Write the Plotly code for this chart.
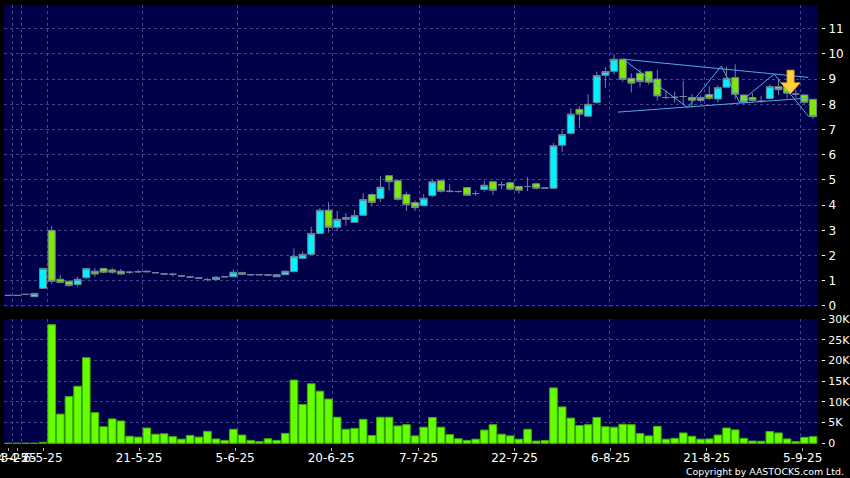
import plotly.graph_objects as go

opens = [.42,.42,.46,.37,.70,3.00,1.06,.97,.85,1.12,1.38,1.49,1.43,1.38,1.34,1.36,1.38,1.32,1.27,1.26,1.19,1.15,1.11,1.05,1.05,1.16,1.16,1.32,1.24,1.24,1.23,1.16,1.24,1.36,
         1.89,2.05,2.88,3.80,3.12,3.51,3.32,3.60,4.42,4.27,5.17,4.97,4.42,4.10,3.98,4.38,4.97,4.55,4.54,4.70,4.46,4.62,4.93,4.81,4.89,4.74,4.74,4.85,4.68,4.67,
         6.38,6.85,7.80,7.53,8.07,9.15,9.31,9.79,9.03,9.23,9.30,9.00,8.27,8.28,8.31,8.27,8.16,8.39,8.21,8.68,9.06,8.37,8.27,8.12,8.23,8.70,8.77,8.41,8.37,8.20]
closes = [.42,.42,.46,.50,1.49,.98,.93,.81,1.06,1.49,1.27,1.34,1.34,1.27,1.34,1.36,1.36,1.32,1.27,1.26,1.19,1.15,1.11,1.05,1.14,1.16,1.34,1.26,1.24,1.24,1.23,1.24,1.38,1.97,
          2.05,2.88,3.80,3.12,3.44,3.44,3.58,4.22,4.11,4.71,4.93,4.23,4.02,3.90,4.27,4.93,4.55,4.55,4.54,4.39,4.46,4.79,4.59,4.81,4.63,4.59,4.74,4.67,4.68,6.36,
          6.80,7.61,7.61,8.00,9.14,9.30,9.79,8.99,8.84,8.90,8.88,8.33,8.27,8.28,8.31,8.16,8.27,8.23,8.66,9.03,8.40,8.08,8.15,8.12,8.70,8.58,8.44,8.41,8.08,7.51]
highs = [.42,.42,.46,.50,1.49,3.17,1.23,1.03,1.16,1.49,1.51,1.51,1.51,1.47,1.40,1.43,1.39,1.34,1.30,1.32,1.22,1.17,1.13,1.11,1.19,1.17,1.46,1.36,1.25,1.26,1.24,1.26,1.40,2.29,
         2.16,3.15,3.88,4.11,3.77,3.68,3.81,4.47,4.47,5.16,5.17,5.03,4.54,4.18,4.44,5.03,5.03,4.83,4.58,4.72,4.58,4.97,4.96,4.93,4.93,4.77,5.11,4.89,4.70,6.46,
         7.02,7.84,7.91,8.40,9.30,9.47,9.99,9.79,9.23,9.39,9.30,9.37,8.57,8.50,8.93,8.41,8.36,8.72,8.76,9.50,9.59,8.37,8.44,8.34,8.80,9.03,8.85,8.57,8.40,8.20]
lows = [.42,.42,.46,.37,.68,.87,.90,.77,.77,1.08,1.16,1.30,1.28,1.25,1.27,1.31,1.33,1.30,1.25,1.17,1.15,1.12,1.09,.98,1.02,1.14,1.14,1.22,1.22,1.22,1.19,1.15,1.22,1.34,
        1.85,2.03,2.85,2.91,2.99,3.19,3.30,3.57,3.98,4.14,4.58,4.18,3.77,3.77,3.95,4.33,4.50,4.50,4.50,4.37,4.37,4.54,4.40,4.63,4.58,4.46,4.56,4.62,4.66,4.65,
        6.12,6.80,7.05,7.50,8.02,8.66,9.18,8.90,8.47,8.70,8.78,8.15,8.20,8.07,7.98,7.87,8.07,8.18,8.07,8.66,8.20,8.02,8.10,8.06,8.20,8.37,8.24,8.27,8.02,7.42]
volumes_k = [0,0,0,0,.24,28.7,7.06,11.3,13.8,20.7,7.4,4.0,5.9,5.4,1.7,1.5,3.7,2.2,2.3,1.6,1.0,1.9,1.5,2.9,1.05,.7,3.4,2.0,.7,.4,1.1,.7,2.4,15.3,
             9.4,14.4,12.6,10.7,6.3,3.4,3.6,5.8,1.9,6.3,6.3,4.2,4.5,1.8,3.9,6.25,3.9,2.1,1.1,.7,1.0,3.2,4.5,2.2,1.8,1.0,3.4,.55,.65,13.4,
             8.8,6.1,4.3,4.5,6.25,4.0,3.9,4.6,4.5,2.35,1.8,4.1,1.0,1.2,2.5,1.7,1.0,1.05,2.0,3.7,3.25,1.2,.55,.5,2.85,2.5,1.05,.4,1.45,1.6]
bar_index = list(range(len(opens)))

upper_x = [71.05, 92.46]
upper_y = [9.79, 9.07]
lower_x = [70.44, 92.46]
lower_y = [7.69, 8.25]
zig_x = [71.05, 78.5, 82.4, 84.5, 88.5, 92.5]
zig_y = [9.79, 7.87, 9.52, 8.07, 9.20, 7.51]
arrow_x = [90.0, 90.8, 90.8, 91.5, 90.4, 89.3, 90.0, 90.0]
arrow_y = [9.35, 9.35, 8.85, 8.85, 8.43, 8.85, 8.85, 9.35]

grid_vals = [0.5, 1.5, 4.5, 15.5, 26.5, 37.5, 47.5, 58.5, 69.5, 80.5, 91.5]
date_ticks = [0, 1, 4, 15.1, 26.2, 37.3, 47.4, 58.5, 69.6, 80.7, 91.8]
date_labels = ["5-3-25", "4-4-25", "6-5-25", "21-5-25", "5-6-25", "20-6-25", "7-7-25", "22-7-25", "6-8-25", "21-8-25", "5-9-25"]
price_ticks = list(range(0, 12))
vol_ticks = [0, 5, 10, 15, 20, 25, 30]
vol_labels = ["0", "5K", "10K", "15K", "20K", "25K", "30K"]

W, H = 850, 478
BG = "#00004A"
GRID = "#45458C"
FONT = dict(family="DejaVu Sans", size=12, color="#FFFFFF")
VFONT = dict(family="DejaVu Sans", size=11, color="#FFFFFF")
XR = [-0.51, 93.57]

fig = go.Figure()
fig.add_trace(go.Candlestick(
    x=bar_index, open=opens, high=highs, low=lows, close=closes,
    increasing=dict(line=dict(color="#6E8496", width=1), fillcolor="#00F4FF"),
    decreasing=dict(line=dict(color="#6E8496", width=1), fillcolor="#7FE800"),
    whiskerwidth=0, xaxis="x", yaxis="y", showlegend=False, hoverinfo="skip"))
line = dict(color="#52A8E6", width=1)
for xs, ys in ((upper_x, upper_y), (lower_x, lower_y), (zig_x, zig_y)):
    fig.add_trace(go.Scatter(x=xs, y=ys, mode="lines", line=line, xaxis="x", yaxis="y",
                             showlegend=False, hoverinfo="skip"))
fig.add_trace(go.Scatter(x=arrow_x, y=arrow_y, mode="lines", fill="toself", fillcolor="#FFD23A",
                         line=dict(color="#F0B020", width=1), xaxis="x", yaxis="y",
                         showlegend=False, hoverinfo="skip"))
fig.add_trace(go.Bar(x=bar_index, y=volumes_k, width=0.88, xaxis="x2", yaxis="y2",
                     marker=dict(color="#66FF00", line=dict(color="#3FB000", width=1)),
                     showlegend=False, hoverinfo="skip"))
fig.add_trace(go.Scatter(x=[0], y=[0], mode="markers", marker=dict(opacity=0), xaxis="x3", yaxis="y2",
                         showlegend=False, hoverinfo="skip"))

xgrid = dict(range=XR, showgrid=True, gridcolor=GRID, griddash="3px,3px", gridwidth=1,
             tickmode="array", tickvals=grid_vals, zeroline=False, showline=False, ticks="",
             showticklabels=False, rangeslider=dict(visible=False), fixedrange=True, automargin=False)
ygrid = dict(showgrid=True, gridcolor=GRID, griddash="3px,3px", gridwidth=1, zeroline=False,
             showline=False, side="right", anchor="free", position=821 / W, ticks="outside",
             ticklen=3, tickcolor="#FFFFFF", tickwidth=1, tickmode="array",
             ticklabelstandoff=1, ticklabeloverflow="allow", fixedrange=True, automargin=False)
fig.update_layout(
    width=W, height=H, autosize=False, margin=dict(l=0, r=0, t=0, b=0),
    paper_bgcolor="#000000", plot_bgcolor=BG, boxgap=0.1, boxgroupgap=0.1, barmode="overlay",
    xaxis=dict(domain=[4 / W, 818 / W], anchor="y", **xgrid),
    xaxis2=dict(domain=[4 / W, 818 / W], anchor="y2", **xgrid),
    xaxis3=dict(domain=[4 / W, 818 / W], range=XR, overlaying="x2", anchor="free",
                position=1 - 447 / H, side="bottom", showgrid=False, zeroline=False, showline=False,
                tickmode="array", tickvals=date_ticks, ticktext=date_labels, ticks="outside",
                ticklen=3, tickcolor="#B0B0B0", tickfont=FONT, ticklabeloverflow="allow", tickangle=0,
                ticklabelstandoff=-3, fixedrange=True, automargin=False),
    yaxis=dict(domain=[1 - 307 / H, 1 - 5 / H], range=[-0.04, 11.94], tickvals=price_ticks,
               tickfont=FONT, **ygrid),
    yaxis2=dict(domain=[1 - 444 / H, 1 - 319 / H], range=[-0.17, 30.07], tickvals=vol_ticks,
                ticktext=vol_labels, tickfont=VFONT, **ygrid),
    annotations=[dict(text="Copyright by AASTOCKS.com Ltd.", xref="paper", yref="paper",
                      x=846 / W, y=1 - 471 / H, xanchor="right", yanchor="middle", showarrow=False,
                      font=dict(family="DejaVu Sans", size=9.4, color="#FFFFFF"))],
)
fig.write_html("out.html", config=dict(displayModeBar=False),
               post_script="document.body.style.margin='0';document.body.style.background='#000';")
